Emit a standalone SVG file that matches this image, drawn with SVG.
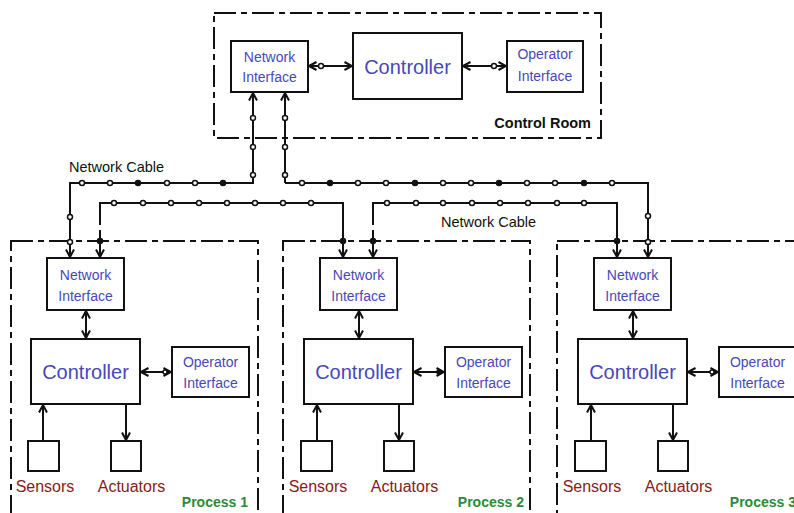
<svg xmlns="http://www.w3.org/2000/svg" width="794" height="513" viewBox="0 0 794 513">
<defs>
<style>
.bg{fill:#fff}
.box{fill:#fff;stroke:#111;stroke-width:2}
.area{fill:none;stroke:#111;stroke-width:2;stroke-dasharray:22 5 6 5}
.ln{fill:none;stroke:#111;stroke-width:2}
.arr{marker-end:url(#ah)}
.dbl{marker-start:url(#ah);marker-end:url(#ah)}
.co{fill:#fff;stroke:#111;stroke-width:1.5}
.cf{fill:#111;stroke:#111;stroke-width:1.5}
.t{font-family:"Liberation Sans",Arial,sans-serif;fill:#4848b8;text-anchor:middle}
.s{font-size:14px}
.c{font-size:20px}
.red{font-family:"Liberation Sans",Arial,sans-serif;fill:#862020;font-size:16px;text-anchor:middle}
.grn{font-family:"Liberation Sans",Arial,sans-serif;fill:#2a8a3a;font-size:14px;font-weight:bold;text-anchor:end}
.blk{font-family:"Liberation Sans",Arial,sans-serif;fill:#111;font-size:14.5px}
</style>
<marker id="ah" viewBox="0 0 10 10" refX="9.5" refY="5" markerWidth="10" markerHeight="10" markerUnits="userSpaceOnUse" orient="auto-start-reverse">
<path d="M2,1 L9.5,5 L2,9" fill="none" stroke="#111" stroke-width="2"/>
</marker>
</defs>
<rect class="bg" width="794" height="513"/>

<g id="control-room">
<rect class="area" x="214" y="13" width="387" height="125"/>
<text class="blk" x="591" y="128" text-anchor="end" font-weight="bold">Control Room</text>
</g>
<g id="cr-network-interface">
<rect class="box" x="231" y="41" width="77" height="51"/>
<text class="t s" x="269.5" y="62">Network</text>
<text class="t s" x="269.5" y="82">Interface</text>
</g>
<g id="cr-controller">
<rect class="box" x="353" y="33" width="109" height="66"/>
<text class="t c" x="407.5" y="74">Controller</text>
</g>
<g id="cr-operator-interface">
<rect class="box" x="507" y="41" width="76" height="51"/>
<text class="t s" x="545" y="59">Operator</text>
<text class="t s" x="545" y="81">Interface</text>
</g>

<g id="process-1">
<rect class="area" x="11" y="241" width="247" height="290"/>
<text class="grn" x="248" y="507">Process 1</text>
</g>
<g id="process-2">
<rect class="area" x="283" y="241" width="247" height="290"/>
<text class="grn" x="524" y="507">Process 2</text>
</g>
<g id="process-3">
<rect class="area" x="557" y="241" width="260" height="290"/>
<text class="grn" x="796" y="507">Process 3</text>
</g>

<g id="p1-nodes">
<g id="p1-network-interface"><rect class="box" x="47" y="258" width="77" height="52"/><text class="t s" x="85.5" y="280">Network</text><text class="t s" x="85.5" y="301">Interface</text></g>
<g id="p1-controller"><rect class="box" x="31" y="339" width="109" height="65"/><text class="t c" x="85.5" y="379">Controller</text></g>
<g id="p1-operator-interface"><rect class="box" x="172" y="347" width="77" height="50"/><text class="t s" x="210.5" y="367">Operator</text><text class="t s" x="210.5" y="388">Interface</text></g>
<g id="p1-sensors"><rect class="box" x="28" y="441" width="31" height="30"/><text class="red" x="45" y="492">Sensors</text></g>
<g id="p1-actuators"><rect class="box" x="111" y="441" width="30" height="30"/><text class="red" x="131.5" y="492">Actuators</text></g>
</g>
<g id="p2-nodes" transform="translate(273,0)">
<g id="p2-network-interface"><rect class="box" x="47" y="258" width="77" height="52"/><text class="t s" x="85.5" y="280">Network</text><text class="t s" x="85.5" y="301">Interface</text></g>
<g id="p2-controller"><rect class="box" x="31" y="339" width="109" height="65"/><text class="t c" x="85.5" y="379">Controller</text></g>
<g id="p2-operator-interface"><rect class="box" x="172" y="347" width="77" height="50"/><text class="t s" x="210.5" y="367">Operator</text><text class="t s" x="210.5" y="388">Interface</text></g>
<g id="p2-sensors"><rect class="box" x="28" y="441" width="31" height="30"/><text class="red" x="45" y="492">Sensors</text></g>
<g id="p2-actuators"><rect class="box" x="111" y="441" width="30" height="30"/><text class="red" x="131.5" y="492">Actuators</text></g>
</g>
<g id="p3-nodes" transform="translate(547,0)">
<g id="p3-network-interface"><rect class="box" x="47" y="258" width="77" height="52"/><text class="t s" x="85.5" y="280">Network</text><text class="t s" x="85.5" y="301">Interface</text></g>
<g id="p3-controller"><rect class="box" x="31" y="339" width="109" height="65"/><text class="t c" x="85.5" y="379">Controller</text></g>
<g id="p3-operator-interface"><rect class="box" x="172" y="347" width="90" height="50"/><text class="t s" x="210.5" y="367">Operator</text><text class="t s" x="210.5" y="388">Interface</text></g>
<g id="p3-sensors"><rect class="box" x="28" y="441" width="31" height="30"/><text class="red" x="45" y="492">Sensors</text></g>
<g id="p3-actuators"><rect class="box" x="111" y="441" width="30" height="30"/><text class="red" x="131.5" y="492">Actuators</text></g>
</g>

<g id="connectors">
<!-- control room -->
<line class="ln dbl" x1="309" y1="66" x2="352" y2="66"/>
<circle class="co" cx="321" cy="66" r="2.5"/>
<line class="ln dbl" x1="463" y1="66" x2="506" y2="66"/>
<circle class="co" cx="494" cy="66" r="2.5"/>

<!-- cable 1: CR -> P1 left -->
<path class="ln arr" d="M253,93 L253,183 L70,183 L70,257"/>
<path class="ln" d="M253,183 L253,93"/>
<line class="ln arr" x1="253" y1="120" x2="253" y2="93"/>
<!-- cable 2: CR -> P3 right -->
<path class="ln arr" d="M285,183 L648,183 L648,257"/>
<line class="ln arr" x1="285" y1="183" x2="285" y2="93"/>
<!-- cable 3: P1 right -> P2 left -->
<path class="ln arr" d="M100,225 L100,203 L343,203 L343,257"/>
<line class="ln arr" x1="100" y1="230" x2="100" y2="257"/>
<!-- cable 4: P2 right -> P3 left -->
<path class="ln arr" d="M373,225 L373,203 L617,203 L617,257"/>
<line class="ln arr" x1="373" y1="230" x2="373" y2="257"/>

<g id="cable-dots">
<circle class="co" cx="253" cy="118" r="2.5"/><circle class="co" cx="253" cy="147" r="2.5"/><circle class="co" cx="253" cy="175" r="2.5"/>
<circle class="co" cx="285" cy="118" r="2.5"/><circle class="co" cx="285" cy="147" r="2.5"/><circle class="co" cx="285" cy="175" r="2.5"/>
<circle class="co" cx="82" cy="183" r="2.5"/><circle class="co" cx="110" cy="183" r="2.5"/><circle class="cf" cx="138" cy="183" r="2.5"/><circle class="co" cx="167" cy="183" r="2.5"/><circle class="co" cx="195" cy="183" r="2.5"/><circle class="cf" cx="223" cy="183" r="2.5"/>
<circle class="co" cx="70" cy="217" r="2.5"/><circle class="co" cx="70" cy="242" r="2.5"/>
<circle class="co" cx="302" cy="183" r="2.5"/><circle class="cf" cx="330" cy="183" r="2.5"/><circle class="co" cx="358" cy="183" r="2.5"/><circle class="co" cx="386" cy="183" r="2.5"/><circle class="cf" cx="415" cy="183" r="2.5"/><circle class="co" cx="443" cy="183" r="2.5"/><circle class="co" cx="471" cy="183" r="2.5"/><circle class="cf" cx="499" cy="183" r="2.5"/><circle class="co" cx="527" cy="183" r="2.5"/><circle class="co" cx="555" cy="183" r="2.5"/><circle class="cf" cx="584" cy="183" r="2.5"/><circle class="co" cx="612" cy="183" r="2.5"/>
<circle class="co" cx="648" cy="216" r="2.5"/><circle class="co" cx="648" cy="242" r="2.5"/>
<circle class="co" cx="114" cy="203" r="2.5"/><circle class="co" cx="143" cy="203" r="2.5"/><circle class="co" cx="171" cy="203" r="2.5"/><circle class="co" cx="199" cy="203" r="2.5"/><circle class="co" cx="227" cy="203" r="2.5"/><circle class="co" cx="255" cy="203" r="2.5"/><circle class="co" cx="283" cy="203" r="2.5"/><circle class="co" cx="311" cy="203" r="2.5"/>
<circle class="cf" cx="100" cy="241" r="2.5"/><circle class="cf" cx="343" cy="241" r="2.5"/>
<circle class="co" cx="387" cy="203" r="2.5"/><circle class="co" cx="416" cy="203" r="2.5"/><circle class="co" cx="443" cy="203" r="2.5"/><circle class="co" cx="472" cy="203" r="2.5"/><circle class="co" cx="500" cy="203" r="2.5"/><circle class="co" cx="528" cy="203" r="2.5"/><circle class="co" cx="557" cy="203" r="2.5"/><circle class="co" cx="584" cy="203" r="2.5"/>
<circle class="cf" cx="373" cy="241" r="2.5"/><circle class="cf" cx="617" cy="241" r="2.5"/>
</g>

<!-- process internal connectors -->
<g id="p1-links">
<line class="ln dbl" x1="86" y1="311" x2="86" y2="338"/>
<line class="ln dbl" x1="141" y1="372" x2="171" y2="372"/>
<circle class="co" cx="165" cy="372" r="2"/>
<line class="ln arr" x1="43" y1="441" x2="43" y2="405"/>
<line class="ln arr" x1="126" y1="404" x2="126" y2="440"/>
</g>
<g id="p2-links" transform="translate(273,0)">
<line class="ln dbl" x1="86" y1="311" x2="86" y2="338"/>
<line class="ln dbl" x1="141" y1="372" x2="171" y2="372"/>
<circle class="cf" cx="166" cy="372" r="2"/>
<line class="ln arr" x1="44" y1="441" x2="44" y2="405"/>
<line class="ln arr" x1="126" y1="404" x2="126" y2="440"/>
</g>
<g id="p3-links" transform="translate(547,0)">
<line class="ln dbl" x1="86" y1="311" x2="86" y2="338"/>
<line class="ln dbl" x1="141" y1="372" x2="171" y2="372"/>
<circle class="co" cx="165" cy="372" r="2"/>
<line class="ln arr" x1="44" y1="441" x2="44" y2="405"/>
<line class="ln arr" x1="126" y1="404" x2="126" y2="440"/>
</g>
</g>

<text class="blk" x="69" y="172" fill="#222">Network Cable</text>
<text class="blk" x="441" y="227" fill="#222">Network Cable</text>
</svg>
